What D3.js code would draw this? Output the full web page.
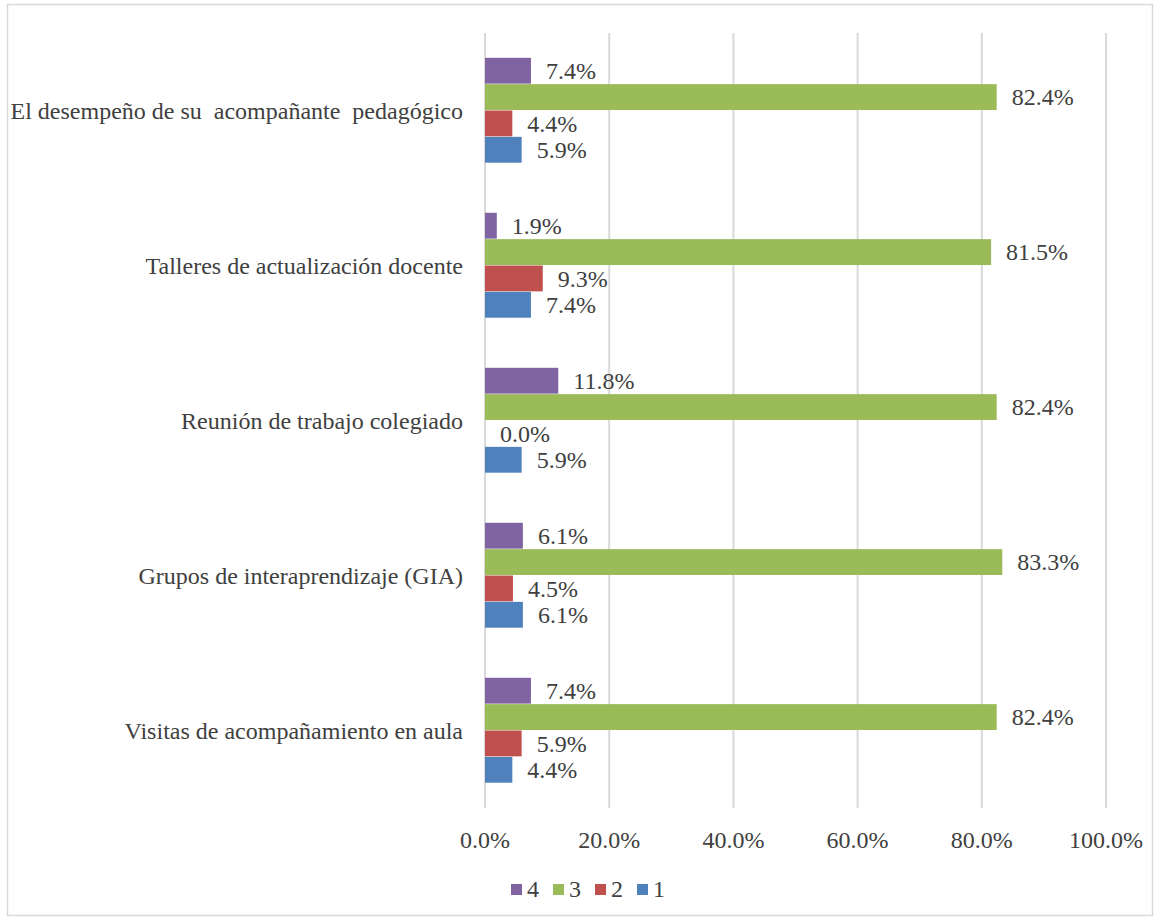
<!DOCTYPE html>
<html><head><meta charset="utf-8">
<script src="https://cdn.jsdelivr.net/npm/d3@7"></script>
<style>body{margin:0;background:#fff}text{font-family:"Liberation Serif","Times New Roman",serif;fill:#404040}</style>
</head><body>
<script>
const categories = ["El desempeño de su  acompañante  pedagógico","Talleres de actualización docente","Reunión de trabajo colegiado","Grupos de interaprendizaje (GIA)","Visitas de acompañamiento en aula"];
const seriesNames = ["4","3","2","1"];
const s4 = [7.4,1.9,11.8,6.1,7.4];
const s3 = [82.4,81.5,82.4,83.3,82.4];
const s2 = [4.4,9.3,0.0,4.5,5.9];
const s1 = [5.9,7.4,5.9,6.1,4.4];
const seriesValues = [s4,s3,s2,s1];
const colors = ["#8064A2","#9BBB59","#C0504D","#4F81BD"];
const ticks = [0,20,40,60,80,100];

const W=1155,H=919;
const svg=d3.select("body").append("svg").attr("width",W).attr("height",H);
svg.append("rect").attr("x",7.5).attr("y",4.5).attr("width",1145).attr("height",911).attr("fill","#fff").attr("stroke","#d9d9d9").attr("stroke-width",1.5);

const x=d3.scaleLinear().domain([0,100]).range([485,1106]);
const y=d3.scaleBand().domain(categories).range([33,808]).paddingInner(0.32).paddingOuter(0.16);
const yi=d3.scaleBand().domain(seriesNames).range([0,y.bandwidth()]);
const FS=24;

svg.append("g").selectAll("line").data(ticks).join("line")
 .attr("x1",d=>x(d)).attr("x2",d=>x(d)).attr("y1",33).attr("y2",808)
 .attr("stroke","#d9d9d9").attr("stroke-width",2);

svg.append("g").selectAll("text").data(ticks).join("text")
 .attr("x",d=>x(d)).attr("y",848).attr("text-anchor","middle").attr("font-size",FS)
 .text(d=>d.toFixed(1)+"%");

svg.append("g").selectAll("text").data(categories).join("text")
 .attr("x",463).attr("y",d=>y(d)+y.bandwidth()/2+8).attr("text-anchor","end").attr("font-size",FS)
 .style("white-space","pre").text(d=>d);

seriesNames.forEach((s,si)=>{
  const g=svg.append("g");
  const data=categories.map((c,ci)=>({c,v:seriesValues[si][ci]}));
  g.selectAll("rect").data(data).join("rect")
   .attr("x",x(0)).attr("y",d=>y(d.c)+yi(s)).attr("height",yi.bandwidth()-0.5)
   .attr("width",d=>x(d.v)-x(0)).attr("fill",colors[si]);
  g.selectAll("text").data(data).join("text")
   .attr("x",d=>x(d.v)+15).attr("y",d=>y(d.c)+yi(s)+yi.bandwidth()/2+8)
   .attr("font-size",FS).text(d=>d.v.toFixed(1)+"%");
});

const lg=svg.append("g");
seriesNames.forEach((s,i)=>{
  const lx=511+i*42;
  lg.append("rect").attr("x",lx).attr("y",884).attr("width",11).attr("height",11).attr("fill",colors[i]);
  lg.append("text").attr("x",lx+16).attr("y",897).attr("font-size",FS).text(s);
});
</script>
</body></html>
